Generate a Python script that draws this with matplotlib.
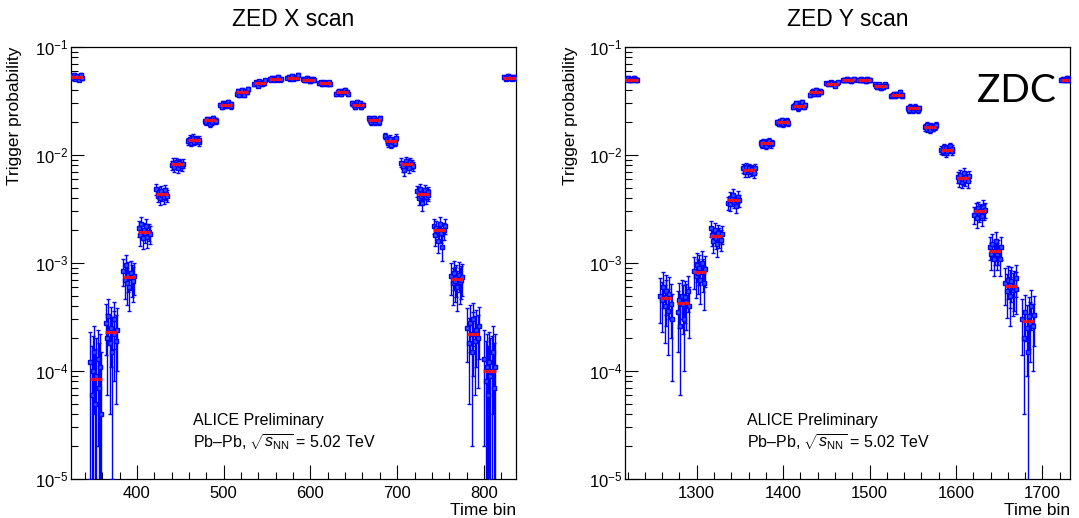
import matplotlib
matplotlib.use("Agg")
import matplotlib.pyplot as plt
from matplotlib.ticker import MultipleLocator, LogLocator, NullFormatter
import numpy as np

plt.rcParams['font.family'] = ['Liberation Sans', 'DejaVu Sans']
plt.rcParams['mathtext.fontset'] = 'custom'
plt.rcParams['mathtext.rm'] = 'Liberation Sans'
plt.rcParams['mathtext.it'] = 'Liberation Sans:italic'
plt.rcParams['mathtext.bf'] = 'Liberation Sans:bold'

# ---------------- data ----------------
bin_offsets = [-7, -5, -4, -2, -1, 0, 2, 3, 5, 6]

# ZED X scan
x_centers = [331, 353, 371, 391, 409, 429, 447, 466, 485, 503, 522, 542, 560, 580,
             598, 617, 637, 655, 674, 693, 712, 730, 749, 769, 788, 807, 830]
x_means = [0.053, 8.5e-5, 2.3e-4, 7.4e-4, 1.95e-3, 4.4e-3, 8.2e-3, 0.0137, 0.021, 0.029,
           0.038, 0.046, 0.051, 0.052, 0.050, 0.046, 0.038, 0.029, 0.021, 0.0136, 0.0082,
           0.0044, 0.0020, 7.1e-4, 2.2e-4, 1.0e-4, 0.052]
x_errs = [0.002, 1.1e-4, 1.4e-4, 2.4e-4, 3.6e-4, 5.5e-4, 8e-4, 1.0e-3, 1.2e-3, 1.4e-3,
          1.6e-3, 1.8e-3, 1.9e-3, 1.9e-3, 1.9e-3, 1.8e-3, 1.6e-3, 1.4e-3, 1.2e-3, 1.0e-3,
          8e-4, 5.5e-4, 3.6e-4, 2.4e-4, 1.3e-4, 1.1e-4, 0.002]
x_points = [
    [0.054, 0.052, 0.055, 0.051, 0.053, 0.054, 0.050, 0.053, 0.055, 0.052],
    [1.2e-4, 6e-5, 1.0e-4, 1.5e-4, 5e-5, 9e-5, 1.3e-4, 7e-5, 1.1e-4, 4e-5],
    [2.8e-4, 2.0e-4, 3.2e-4, 1.8e-4, 2.5e-4, 1.5e-4, 2.2e-4, 3.0e-4, 1.9e-4, 2.4e-4],
    [8.5e-4, 7.0e-4, 9.5e-4, 6.5e-4, 7.8e-4, 6.0e-4, 8.0e-4, 7.2e-4, 6.8e-4, 7.5e-4],
    [2.1e-3, 1.8e-3, 2.3e-3, 1.7e-3, 2.0e-3, 1.9e-3, 2.2e-3, 1.75e-3, 1.95e-3, 1.85e-3],
    [4.8e-3, 4.2e-3, 4.5e-3, 4.0e-3, 4.6e-3, 4.3e-3, 4.1e-3, 4.7e-3, 4.4e-3, 4.2e-3],
    [8.0e-3, 8.5e-3, 7.8e-3, 8.6e-3, 8.2e-3, 7.6e-3, 8.4e-3, 8.1e-3, 7.9e-3, 8.3e-3],
    [0.0135, 0.0142, 0.0130, 0.0138, 0.0145, 0.0133, 0.0140, 0.0136, 0.0131, 0.0139],
    [0.0205, 0.0200, 0.0215, 0.0208, 0.0195, 0.0212, 0.0203, 0.0218, 0.0210, 0.0207],
    [0.029, 0.028, 0.030, 0.0285, 0.0295, 0.029, 0.031, 0.0288, 0.0282, 0.0298],
    [0.037, 0.039, 0.036, 0.038, 0.040, 0.037, 0.036, 0.039, 0.038, 0.041],
    [0.045, 0.047, 0.046, 0.044, 0.048, 0.046, 0.045, 0.047, 0.046, 0.049],
    [0.051, 0.050, 0.052, 0.051, 0.050, 0.052, 0.051, 0.053, 0.050, 0.051],
    [0.052, 0.053, 0.051, 0.052, 0.054, 0.051, 0.052, 0.053, 0.052, 0.055],
    [0.051, 0.050, 0.049, 0.052, 0.050, 0.051, 0.048, 0.050, 0.051, 0.049],
    [0.046, 0.047, 0.045, 0.046, 0.047, 0.046, 0.045, 0.046, 0.047, 0.045],
    [0.037, 0.038, 0.039, 0.037, 0.038, 0.039, 0.038, 0.040, 0.038, 0.037],
    [0.030, 0.029, 0.028, 0.029, 0.031, 0.029, 0.030, 0.028, 0.029, 0.029],
    [0.022, 0.021, 0.020, 0.021, 0.022, 0.020, 0.021, 0.021, 0.020, 0.022],
    [0.0150, 0.0140, 0.0128, 0.0135, 0.0142, 0.0125, 0.0132, 0.0138, 0.0130, 0.0145],
    [0.0085, 0.0078, 0.0072, 0.0088, 0.0080, 0.0083, 0.0076, 0.0086, 0.0082, 0.0079],
    [0.0046, 0.0040, 0.0048, 0.0042, 0.0036, 0.0044, 0.0047, 0.0041, 0.0045, 0.0043],
    [0.0022, 0.0018, 0.0021, 0.0016, 0.0020, 0.0023, 0.0019, 0.0014, 0.0020, 0.0022],
    [7.5e-4, 6.5e-4, 8.0e-4, 6.8e-4, 7.2e-4, 6.0e-4, 7.8e-4, 6.6e-4, 7.0e-4, 7.4e-4],
    [2.5e-4, 1.8e-4, 2.8e-4, 1.5e-4, 2.2e-4, 3.0e-4, 1.9e-4, 2.4e-4, 2.0e-4, 2.6e-4],
    [1.3e-4, 8e-5, 1.1e-4, 6e-5, 1.2e-4, 9e-5, 1.0e-4, 1.5e-4, 7e-5, 1.1e-4],
    [0.053, 0.051, 0.052, 0.054, 0.052, 0.053, 0.051, 0.052, 0.053, 0.052],
]

# ZED Y scan
y_centers = [1225, 1265, 1285, 1304, 1323, 1343, 1361, 1381, 1400, 1419, 1438, 1457, 1476,
             1494, 1513, 1532, 1551, 1571, 1590, 1609, 1628, 1646, 1664, 1684, 1729]
y_means = [0.050, 4.7e-4, 4.3e-4, 8.3e-4, 1.77e-3, 3.8e-3, 7.3e-3, 0.0128, 0.020, 0.0287,
           0.038, 0.0455, 0.0495, 0.0495, 0.044, 0.036, 0.027, 0.018, 0.0112, 0.0061,
           0.0030, 0.0013, 6.1e-4, 2.9e-4, 0.050]
y_errs = [0.002, 2.2e-4, 2.0e-4, 2.8e-4, 3.6e-4, 5e-4, 7e-4, 9e-4, 1.1e-3, 1.4e-3,
          1.6e-3, 1.8e-3, 1.9e-3, 1.9e-3, 1.8e-3, 1.6e-3, 1.4e-3, 1.2e-3, 9e-4, 7e-4,
          5e-4, 3.4e-4, 2.4e-4, 1.6e-4, 0.002]
y_points = [
    [0.051, 0.050, 0.052, 0.049, 0.051, 0.050, 0.052, 0.051, 0.049, 0.050],
    [5.0e-4, 4.5e-4, 6.0e-4, 4.0e-4, 5.5e-4, 4.8e-4, 3.6e-4, 5.2e-4, 4.2e-4, 3.0e-4],
    [3.5e-4, 4.5e-4, 2.6e-4, 5.0e-4, 4.2e-4, 3.0e-4, 4.8e-4, 4.4e-4, 5.5e-4, 4.0e-4],
    [8.5e-4, 7.5e-4, 9.5e-4, 8.0e-4, 9.0e-4, 7.0e-4, 1.0e-3, 8.2e-4, 6.5e-4, 8.8e-4],
    [2.1e-3, 1.8e-3, 1.6e-3, 2.0e-3, 1.7e-3, 1.5e-3, 1.9e-3, 1.75e-3, 1.65e-3, 1.85e-3],
    [3.6e-3, 4.0e-3, 3.5e-3, 3.9e-3, 4.3e-3, 3.7e-3, 3.8e-3, 3.4e-3, 4.1e-3, 3.8e-3],
    [7.5e-3, 7.0e-3, 7.8e-3, 6.9e-3, 7.3e-3, 7.6e-3, 7.1e-3, 7.4e-3, 6.8e-3, 7.5e-3],
    [0.0130, 0.0125, 0.0133, 0.0127, 0.0122, 0.0131, 0.0128, 0.0135, 0.0126, 0.0129],
    [0.0200, 0.0195, 0.0205, 0.0198, 0.0210, 0.0192, 0.0203, 0.0199, 0.0207, 0.0196],
    [0.028, 0.029, 0.030, 0.027, 0.028, 0.030, 0.029, 0.031, 0.028, 0.029],
    [0.036, 0.038, 0.039, 0.037, 0.038, 0.040, 0.037, 0.038, 0.039, 0.038],
    [0.046, 0.045, 0.046, 0.047, 0.045, 0.046, 0.045, 0.044, 0.046, 0.047],
    [0.049, 0.050, 0.049, 0.051, 0.050, 0.049, 0.050, 0.048, 0.050, 0.051],
    [0.050, 0.049, 0.051, 0.050, 0.049, 0.050, 0.048, 0.051, 0.050, 0.049],
    [0.045, 0.044, 0.043, 0.045, 0.044, 0.042, 0.044, 0.043, 0.045, 0.044],
    [0.035, 0.036, 0.037, 0.035, 0.036, 0.037, 0.036, 0.038, 0.035, 0.036],
    [0.027, 0.026, 0.028, 0.027, 0.026, 0.027, 0.028, 0.027, 0.026, 0.027],
    [0.018, 0.0175, 0.019, 0.018, 0.0172, 0.0185, 0.018, 0.0178, 0.0182, 0.0188],
    [0.0112, 0.0108, 0.0118, 0.0105, 0.0115, 0.0110, 0.0113, 0.0120, 0.0109, 0.0114],
    [0.0062, 0.0058, 0.0065, 0.0056, 0.0060, 0.0068, 0.0059, 0.0063, 0.0057, 0.0064],
    [0.0028, 0.0031, 0.0026, 0.0032, 0.0029, 0.0030, 0.0027, 0.0033, 0.0030, 0.0031],
    [0.0014, 0.0012, 0.0015, 0.0011, 0.0013, 0.0016, 0.0012, 0.0013, 0.0011, 0.0014],
    [6.5e-4, 5.5e-4, 7.0e-4, 5.0e-4, 6.2e-4, 6.8e-4, 5.6e-4, 6.0e-4, 7.2e-4, 5.8e-4],
    [3.0e-4, 2.0e-4, 3.5e-4, 2.5e-4, 1.5e-4, 3.2e-4, 2.8e-4, 4.0e-4, 2.6e-4, 3.3e-4],
    [0.050, 0.051, 0.049, 0.050, 0.052, 0.050, 0.051, 0.049, 0.050, 0.051],
]

titles = ["ZED X scan", "ZED Y scan"]
x_limits = [(324, 837), (1217, 1732)]
ylabel = "Trigger probability"
xlabel = "Time bin"
note1 = "ALICE Preliminary"
note2 = r"Pb–Pb, $\sqrt{s_{\mathrm{NN}}}$ = 5.02 TeV"

# ---------------- figure ----------------
W, H = 1079, 518
fig = plt.figure(figsize=(W / 100, H / 100), dpi=100)
ax_specs = [(71, 47, 445, 432), (625, 47, 445, 432)]
axes = [fig.add_axes([l / W, 1 - (t + h) / H, w / W, h / H]) for (l, t, w, h) in ax_specs]

datasets = [(x_centers, x_means, x_errs, x_points), (y_centers, y_means, y_errs, y_points)]
ylabel_x = [-0.111, -0.106]

for i, ax in enumerate(axes):
    centers, means, errs, pts = datasets[i]
    for c, m, e, p in zip(centers, means, errs, pts):
        xs = [c + o for o in bin_offsets]
        ax.errorbar(xs, p, yerr=e, fmt='s', color='#0000ff', ms=2.2, mec='#0000ff',
                    mfc='#3355ff', elinewidth=1.0, capsize=1.6, capthick=1.0, zorder=3)
        ax.hlines(m, c + bin_offsets[0] - 0.5, c + bin_offsets[-1] + 0.5,
                  color='#ff1010', lw=2.3, alpha=0.9, zorder=4)
    ax.set_yscale('log')
    ax.set_ylim(1e-5, 1e-1)
    ax.set_xlim(*x_limits[i])
    ax.xaxis.set_major_locator(MultipleLocator(100))
    ax.xaxis.set_minor_locator(MultipleLocator(20))
    ax.yaxis.set_major_locator(LogLocator(base=10, numticks=10))
    ax.yaxis.set_minor_locator(LogLocator(base=10, subs=np.arange(2, 10), numticks=20))
    ax.yaxis.set_minor_formatter(NullFormatter())
    ax.tick_params(which='both', direction='in', top=False, right=False, labelsize=12,
                   width=0.8, color='black')
    ax.tick_params(axis='x', which='major', length=10, pad=5)
    ax.tick_params(axis='x', which='minor', length=5)
    ax.tick_params(axis='y', which='major', length=9.5, pad=2)
    ax.tick_params(axis='y', which='minor', length=5)
    for sp in ax.spines.values():
        sp.set_linewidth(0.9)
    ax.set_ylabel(ylabel, fontsize=12.5, loc='top')
    ax.yaxis.set_label_coords(ylabel_x[i], 1.0)
    ax.text(1.0, -0.072, xlabel, transform=ax.transAxes, ha='right', va='center', fontsize=12.5)
    ax.text(0.275, 0.136, note1, transform=ax.transAxes, ha='left', va='center', fontsize=11.5)
    ax.text(0.275, 0.086, note2, transform=ax.transAxes, ha='left', va='center', fontsize=11.5)
    l, t, w, h = ax_specs[i]
    fig.text((l + w / 2) / W, 1 - 19 / H, titles[i], ha='center', va='center', fontsize=16.5)

fig.text(977 / W, 1 - 91 / H, "ZDC", ha='left', va='center', fontsize=28,
         family=['Lato', 'DejaVu Sans'])

fig.savefig("out.png", dpi=100)
